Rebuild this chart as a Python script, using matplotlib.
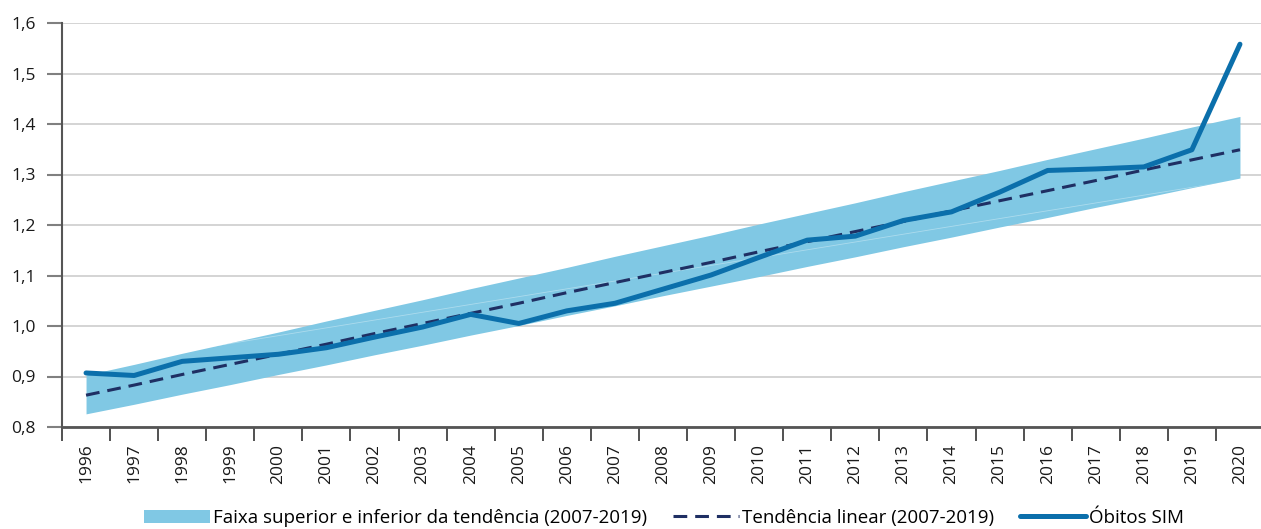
import matplotlib.pyplot as plt
import numpy as np

plt.rcParams["font.family"] = ["Open Sans", "DejaVu Sans"]

years = [str(y) for y in range(1996, 2021)]

obitos_sim = [0.907, 0.902, 0.930, 0.937, 0.944, 0.957, 0.978, 0.998, 1.023, 1.005,
              1.030, 1.045, 1.073, 1.101, 1.136, 1.170, 1.178, 1.209, 1.226, 1.265,
              1.308, 1.311, 1.315, 1.349, 1.558]

tendencia = [0.863, 0.883, 0.904, 0.924, 0.944, 0.964, 0.985, 1.005, 1.025, 1.045,
             1.066, 1.086, 1.106, 1.126, 1.147, 1.167, 1.187, 1.207, 1.228, 1.248,
             1.268, 1.288, 1.309, 1.329, 1.349]

faixa_sup = [0.903, 0.924, 0.946, 0.967, 0.988, 1.010, 1.031, 1.052, 1.074, 1.095,
             1.116, 1.138, 1.159, 1.180, 1.202, 1.223, 1.244, 1.266, 1.287, 1.308,
             1.330, 1.351, 1.372, 1.394, 1.415]

faixa_inf = [0.826, 0.845, 0.865, 0.884, 0.904, 0.923, 0.943, 0.962, 0.982, 1.001,
             1.021, 1.040, 1.060, 1.079, 1.098, 1.118, 1.137, 1.157, 1.176, 1.196,
             1.215, 1.235, 1.254, 1.274, 1.293]

# faint seam visible inside the band
seam = [0.919, 1.290]

yticks = [0.8, 0.9, 1.0, 1.1, 1.2, 1.3, 1.4, 1.5, 1.6]

x = np.arange(len(years))

fig = plt.figure(figsize=(12.61, 5.29), dpi=100)
ax = fig.add_axes([62 / 1261, 102 / 529, 1202 / 1261, 404 / 529])

band = ax.fill_between(x, faixa_inf, faixa_sup, color="#80c8e4", lw=0, zorder=2,
                       label="Faixa superior e inferior da tendência (2007-2019)")
seam_line, = ax.plot([x[0], x[-1]], seam, color="white", lw=0.6, alpha=0.35, zorder=2.5)
seam_line.set_clip_path(band.get_paths()[0], band.get_transform())

ax.plot(x, tendencia, color="#1f2f63", lw=2.2, dashes=(4.5, 2.6), zorder=3,
        label="Tendência linear (2007-2019)")
ax.plot(x, obitos_sim, color="#0b6fab", lw=3.6, solid_capstyle="round",
        solid_joinstyle="round", zorder=4, label="Óbitos SIM")

ax.set_xlim(-0.5, len(years) - 0.5)
ax.set_ylim(0.8, 1.6)

ax.set_yticks(yticks)
ax.set_yticklabels([f"{v:.1f}".replace(".", ",") for v in yticks], fontsize=12.5, color="#1a1a1a")
ax.yaxis.grid(True, color="#c9c9c9", lw=1.1, zorder=0)
ax.set_axisbelow(True)
ax.tick_params(axis="y", length=11, width=1.5, color="#808080", pad=8)

ax.set_xticks(x)
ax.set_xticklabels(years, rotation=90, fontsize=12.5, color="#1a1a1a")
ax.set_xticks(np.arange(len(years) + 1) - 0.5, minor=True)
ax.tick_params(axis="x", which="major", length=0, pad=12)
ax.tick_params(axis="x", which="minor", length=10, width=1.2, color="#333333")

for s in ["top", "right"]:
    ax.spines[s].set_visible(False)
ax.spines["left"].set_color("#555555")
ax.spines["left"].set_linewidth(1.5)
ax.spines["bottom"].set_color("#555555")
ax.spines["bottom"].set_linewidth(2)

fig.legend(loc="center", bbox_to_anchor=(664 / 1261, 1 - 518 / 529), ncol=3,
           frameon=False, fontsize=13.5, handlelength=3.5, handletextpad=0.15,
           columnspacing=1.4, borderaxespad=0)

fig.savefig("out.png", dpi=100)
